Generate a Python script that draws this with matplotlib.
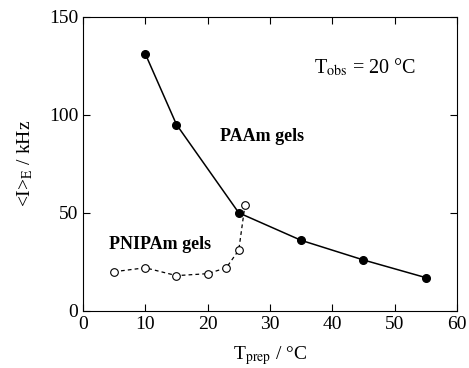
import matplotlib
matplotlib.use("Agg")
import matplotlib.pyplot as plt

plt.rcParams['font.family'] = ['Liberation Serif', 'DejaVu Serif']
plt.rcParams['mathtext.fontset'] = 'stix'

# PAAm gels (filled)
paam_t = [10, 15, 25, 35, 45, 55]
paam_i = [131, 95, 50, 36, 26, 17]

# PNIPAm gels (open)
pnipam_t = [5, 10, 15, 20, 23, 25, 26]
pnipam_i = [20, 22, 18, 19, 22, 31, 54]

fig = plt.figure(figsize=(4.69, 3.68), dpi=100)
ax = fig.add_axes([0.177, 0.155, 0.797, 0.8])

ax.plot(paam_t, paam_i, '-', color='black', lw=1.1, marker='o', ms=5.5,
        mfc='black', mec='black')
ax.plot(pnipam_t, pnipam_i, '--', color='black', lw=0.9, dashes=(3, 2.5),
        marker='o', ms=5.5, mfc='white', mec='black', mew=0.8)

ax.set_xlim(0, 60)
ax.set_ylim(0, 150)
ax.set_xticks(range(0, 61, 10))
ax.set_yticks([0, 50, 100, 150])
ax.tick_params(direction='in', top=True, right=True, labelsize=14, length=5)

ax.set_xlabel(r'T$_{\rm prep}$ / °C', fontsize=14, labelpad=8)
ax.set_ylabel(r'<I>$_{\rm E}$ / kHz', fontsize=14, labelpad=10)

ax.text(37, 124, r'T$_{\rm obs}$ = 20 °C', fontsize=14.5, va='center')
ax.text(22, 89, 'PAAm gels', fontsize=13, fontweight='bold', va='center')
ax.text(4.2, 34, 'PNIPAm gels', fontsize=13, fontweight='bold', va='center')

fig.savefig('out.png', dpi=100)
